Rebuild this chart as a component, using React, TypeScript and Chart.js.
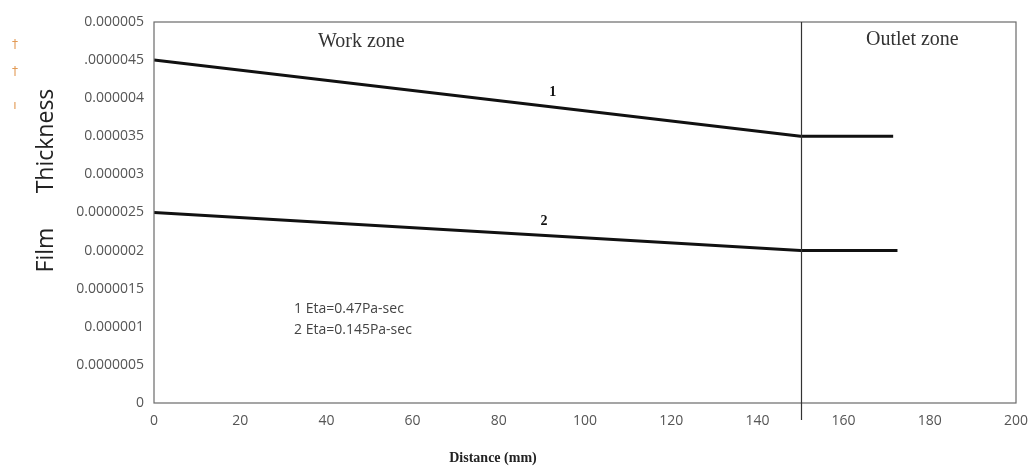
import React, { useEffect, useRef } from "react";
import { Chart, registerables } from "chart.js";

Chart.register(...registerables);

const series1X = [0, 150, 171.5];
const series1Y = [4.5e-6, 3.5e-6, 3.5e-6];
const series2X = [0, 150, 172.5];
const series2Y = [2.5e-6, 2.0e-6, 2.0e-6];

const yTickLabels = [
  "0",
  "0.0000005",
  "0.000001",
  "0.0000015",
  "0.000002",
  "0.0000025",
  "0.000003",
  "0.000035",
  "0.000004",
  ".0000045",
  "0.000005",
];
const xTickLabels = ["0", "20", "40", "60", "80", "100", "120", "140", "160", "180", "200"];

const zoneBoundary = 150;
const zoneLabels = ["Work zone", "Outlet zone"];
const lineLabels = ["1", "2"];
const legendLines = ["1 Eta=0.47Pa-sec", "2 Eta=0.145Pa-sec"];
const xTitle = "Distance (mm)";
const yTitleParts = ["Film", "Thickness"];

const decorPlugin = {
  id: "decor",
  afterDraw(chart: any) {
    const { ctx, chartArea, scales } = chart;
    const xs = scales.x;
    const ys = scales.y;
    ctx.save();
    // frame
    ctx.strokeStyle = "#6a6a6a";
    ctx.lineWidth = 1.2;
    ctx.strokeRect(chartArea.left, chartArea.top, chartArea.right - chartArea.left, chartArea.bottom - chartArea.top);
    // zone boundary
    const bx = Math.round(xs.getPixelForValue(zoneBoundary)) + 0.5;
    ctx.strokeStyle = "#333";
    ctx.lineWidth = 1.2;
    ctx.beginPath();
    ctx.moveTo(bx, chartArea.top);
    ctx.lineTo(bx, chartArea.bottom + 17);
    ctx.stroke();

    // zone labels
    ctx.fillStyle = "#333";
    ctx.font = "20px 'Liberation Serif', 'DejaVu Serif', serif";
    ctx.textBaseline = "middle";
    ctx.textAlign = "left";
    ctx.fillText(zoneLabels[0], 318, 42);
    ctx.fillText(zoneLabels[1], 866, 40);

    // line labels
    ctx.fillStyle = "#111";
    ctx.font = "bold 14px 'Liberation Serif', serif";
    ctx.textAlign = "center";
    ctx.fillText(lineLabels[0], xs.getPixelForValue(92.5), ys.getPixelForValue(4.07e-6));
    ctx.fillText(lineLabels[1], xs.getPixelForValue(90.5), ys.getPixelForValue(2.38e-6));

    // legend text
    ctx.fillStyle = "#444";
    ctx.font = "14px 'Open Sans', 'Noto Sans', sans-serif";
    ctx.textAlign = "left";
    ctx.fillText(legendLines[0], 294, 309);
    ctx.fillText(legendLines[1], 294, 330);

    // x title
    ctx.fillStyle = "#222";
    ctx.font = "bold 14px 'Liberation Serif', serif";
    ctx.textAlign = "center";
    ctx.fillText(xTitle, 493, 458);

    // y title
    ctx.fillStyle = "#222";
    ctx.font = "23px 'Open Sans', 'Noto Sans', sans-serif";
    ctx.save();
    ctx.translate(46, 250);
    ctx.rotate(-Math.PI / 2);
    ctx.fillText(yTitleParts[0], 0, 0);
    ctx.restore();
    ctx.save();
    ctx.translate(46, 141);
    ctx.rotate(-Math.PI / 2);
    ctx.fillText(yTitleParts[1], 0, 0);
    ctx.restore();

    // small orange artifacts
    ctx.fillStyle = "#e29a55";
    ctx.font = "12px 'DejaVu Sans', sans-serif";
    ctx.fillText("\u2020", 15, 45);
    ctx.fillText("\u2020", 15, 72);
    ctx.fillText("\u0131", 15, 106);
    ctx.restore();
  },
};

export default function App() {
  const ref = useRef<HTMLCanvasElement | null>(null);
  useEffect(() => {
    document.body.style.margin = "0";
    const canvas = ref.current;
    if (!canvas) return;
    const chart = new Chart(canvas, {
      type: "line",
      data: {
        datasets: [
          {
            label: "1",
            data: series1X.map((x, i) => ({ x, y: series1Y[i] })),
            borderColor: "#111",
            borderWidth: 3,
            pointRadius: 0,
            tension: 0,
          },
          {
            label: "2",
            data: series2X.map((x, i) => ({ x, y: series2Y[i] })),
            borderColor: "#111",
            borderWidth: 3,
            pointRadius: 0,
            tension: 0,
          },
        ],
      },
      options: {
        animation: false,
        responsive: false,
        layout: { padding: { top: 22, right: 15, left: 0, bottom: 0 } },
        plugins: { legend: { display: false }, tooltip: { enabled: false } },
        scales: {
          x: {
            type: "linear",
            min: 0,
            max: 200,
            grid: { display: false, drawTicks: false },
            border: { display: false },
            ticks: {
              stepSize: 20,
              padding: 10,
              color: "#555",
              font: { family: "'Open Sans', 'Noto Sans', sans-serif", size: 14 },
              callback: (_v: any, i: number) => xTickLabels[i],
              maxRotation: 0,
              autoSkip: false,
            },
            afterFit: (s: any) => {
              s.height = 66;
              s.paddingRight = 0;
              s.paddingLeft = 0;
            },
          },
          y: {
            type: "linear",
            min: 0,
            max: 5e-6,
            grid: { display: false, drawTicks: false },
            border: { display: false },
            ticks: {
              stepSize: 5e-7,
              padding: 10,
              color: "#555",
              font: { family: "'Open Sans', 'Noto Sans', sans-serif", size: 14 },
              callback: (_v: any, i: number) => yTickLabels[i],
              autoSkip: false,
            },
            afterFit: (s: any) => {
              s.width = 154;
              s.paddingTop = 0;
              s.paddingBottom = 0;
            },
          },
        },
      },
      plugins: [decorPlugin],
    });
    return () => chart.destroy();
  }, []);
  return (
    <div style={{ position: "fixed", left: 0, top: 0, width: 1031, height: 469, background: "#fff" }}>
      <canvas ref={ref} width={1031} height={469} style={{ width: 1031, height: 469 }} />
    </div>
  );
}
